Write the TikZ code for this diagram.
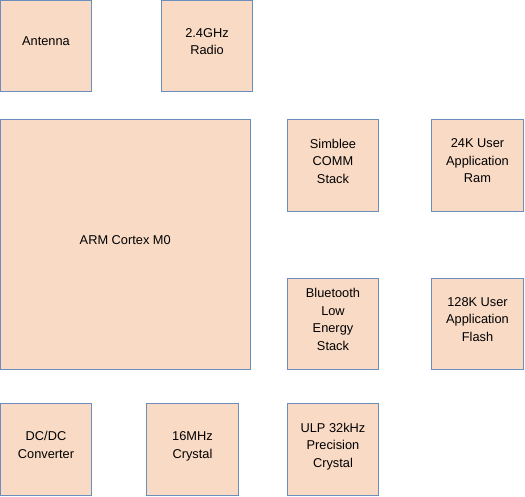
\documentclass[tikz,border=0pt]{standalone}
\usepackage{fontspec}
\setmainfont{Liberation Sans}
\usetikzlibrary{positioning}
\definecolor{boxfill}{RGB}{249,218,197}
\definecolor{boxline}{RGB}{108,142,191}

\begin{document}
\begin{tikzpicture}
	[x=1pt, y=-1pt, node distance=28pt,
		font=\fontsize{12.8}{17.5}\selectfont,
		% STYLES
		% The block style is used for the small parts of the chip
		block/.style={rectangle, draw=boxline, fill=boxfill, line width=1.2pt,
				minimum width=91.5pt, minimum height=91.5pt, outer sep=0pt,
				inner sep=2pt, text depth=9pt, align=center},
		% The core style is used for the processor
		core/.style={block, minimum width=250pt, minimum height=250pt}]

	\useasboundingbox (0,0) rectangle (525,497);

	% Top row
	\node [block] (antenna) at (46,46) {Antenna};
	\node [block, right=69.5pt of antenna] (radio) {2.4GHz\\Radio};

	% Core
	\node [core, below=28pt of antenna.south west, anchor=north west] (arm) {ARM Cortex M0};

	% Right side
	\node [block, right=37pt of arm.north east, anchor=north west] (comm) {Simblee\\COMM\\Stack};
	\node [block, right=53pt of comm] (ram) {24K User\\Application\\Ram};
	\node [block, right=37pt of arm.south east, anchor=south west] (ble) {Bluetooth\\Low\\Energy\\Stack};
	\node [block, right=53pt of ble] (flash) {128K User\\Application\\Flash};

	% Bottom row
	\node [block, below=34pt of arm.south west, anchor=north west] (dcdc) {DC/DC\\Converter};
	\node [block, right=55pt of dcdc] (xtal) {16MHz\\Crystal};
	\node [block, below=34pt of ble] (ulp) {ULP 32kHz\\Precision\\Crystal};
\end{tikzpicture}
\end{document}
